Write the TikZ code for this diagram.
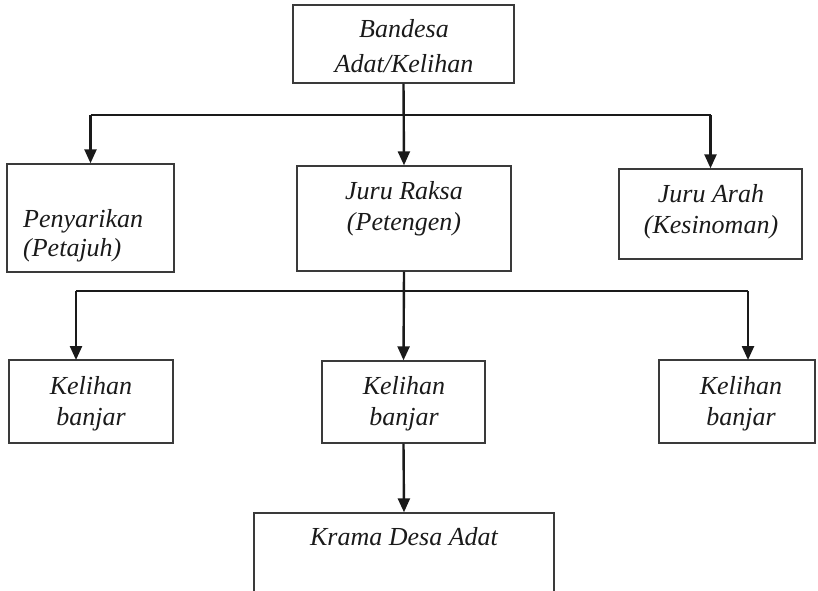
\documentclass[tikz,border=0pt]{standalone}
\usepackage{fontspec}
\setmainfont{Liberation Serif}
\usetikzlibrary{arrows.meta}
\definecolor{ink}{HTML}{1A1A1A}
\definecolor{boxline}{HTML}{3A3A3A}
\begin{document}
\begin{tikzpicture}[x=1pt,y=-1pt,
  box/.style={draw=boxline,line width=1.4pt,rectangle,inner sep=0pt,minimum width=#1},
  lbl/.style={anchor=base,inner sep=0pt,text=ink,font=\fontsize{26}{30}\selectfont\itshape},
  lbll/.style={anchor=base west,inner sep=0pt,text=ink,font=\fontsize{26}{30}\selectfont\itshape},
  hline/.style={draw=ink,line width=1.3pt},
  varr/.style={draw=ink,line width=2.4pt,-{Triangle[width=12pt,length=14pt]}}]
\useasboundingbox (0,0) rectangle (818,590);
% boxes
\node[box=221pt,minimum height=78pt] (T) at (403.5,44) {};
\node[box=167pt,minimum height=108pt] (P) at (90.5,218) {};
\node[box=214pt,minimum height=105pt] (R) at (404,218.5) {};
\node[box=183pt,minimum height=90pt] (A) at (710.5,214) {};
\node[box=164pt,minimum height=83pt] (K1) at (91,401.5) {};
\node[box=163pt,minimum height=82pt] (K2) at (403.5,402) {};
\node[box=156pt,minimum height=83pt] (K3) at (737,401.5) {};
\node[box=300pt,minimum height=84pt] (KD) at (404,555) {};
% texts
\node[lbl] (t1) at (404,37) {Bandesa};
\node[lbl] (t2) at (404,72) {Adat/Kelihan};
\node[lbll] (p1) at (23,227) {Penyarikan};
\node[lbll] (p2) at (23,256) {(Petajuh)};
\node[lbl] (r1) at (404,199) {Juru Raksa};
\node[lbl] (r2) at (404,230) {(Petengen)};
\node[lbl] (a1) at (711,202) {Juru Arah};
\node[lbl] (a2) at (711,233) {(Kesinoman)};
\node[lbl] (k11) at (91,394) {Kelihan};
\node[lbl] (k12) at (91,425) {banjar};
\node[lbl] (k21) at (404,394) {Kelihan};
\node[lbl] (k22) at (404,425) {banjar};
\node[lbl] (k31) at (741,394) {Kelihan};
\node[lbl] (k32) at (741,425) {banjar};
\node[lbl] (kd1) at (404,545) {Krama Desa Adat};
% junctions
\coordinate (j1) at (403,115);
\coordinate (j2) at (403,291);
\coordinate (k1top) at (76,360);
\coordinate (k3top) at (748,360);
% connectors level 1
\draw[hline] (P.north |- j1) -- (A.north |- j1);
\draw[varr] (T.south) -- (R.north);
\draw[varr] (P.north |- j1) -- (P.north);
\draw[varr] (A.north |- j1) -- (A.north);
% connectors level 2
\draw[hline] (k1top |- j2) -- (k3top |- j2);
\draw[varr] (R.south) -- (K2.north);
\draw[varr] (k1top |- j2) -- (k1top);
\draw[varr] (k3top |- j2) -- (k3top);
% level 3
\draw[varr] (K2.south) -- (KD.north);
\end{tikzpicture}
\end{document}
